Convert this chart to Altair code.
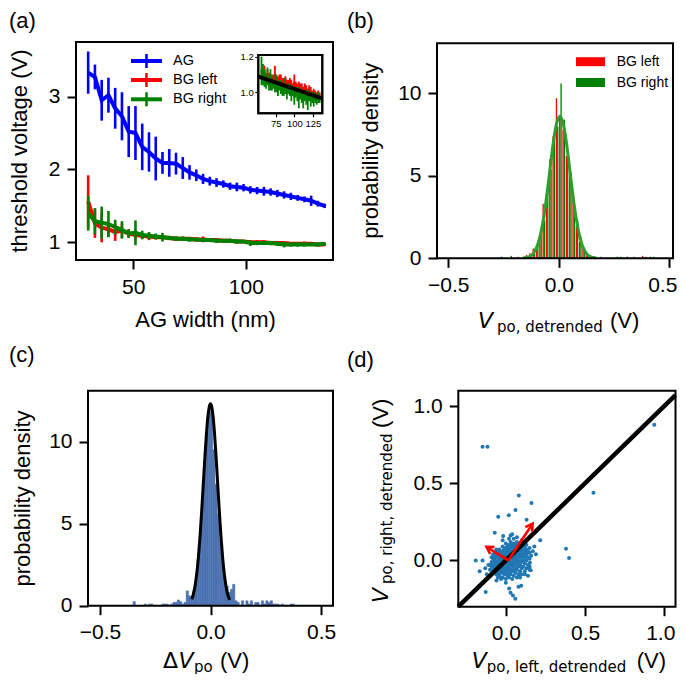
import altair as alt
import pandas as pd

W, H = 669, 666
FONT = "Liberation Sans"
MATH = "DejaVu Sans"
BLUE, RED, GREEN = "#0000ff", "#ff0000", "#008000"

# ---------------- (a) threshold voltage vs AG width ----------------
ag_width = [30, 33, 36, 39, 42, 45, 48, 51, 54, 57, 60, 63, 66, 69, 72, 75, 78, 81,
            84, 87, 90, 93, 96, 99, 102, 105, 108, 111, 114, 117, 120, 123, 126, 129, 132, 135]
ag_vt = [3.33, 3.27, 2.95, 3.02, 2.84, 2.73, 2.52, 2.50, 2.31, 2.24, 2.15, 2.09, 2.09, 2.08, 2.02, 1.96, 1.92, 1.87,
         1.84, 1.82, 1.80, 1.77, 1.76, 1.75, 1.72, 1.71, 1.70, 1.69, 1.67, 1.65, 1.63, 1.61, 1.59, 1.57, 1.53, 1.50]
ag_err = [0.29, 0.17, 0.28, 0.24, 0.28, 0.33, 0.35, 0.37, 0.32, 0.27, 0.30, 0.15, 0.19, 0.15, 0.15, 0.10, 0.08, 0.07,
          0.06, 0.06, 0.05, 0.05, 0.06, 0.05, 0.05, 0.05, 0.06, 0.05, 0.05, 0.05, 0.05, 0.04, 0.04, 0.07, 0.04, 0.03]
bgl_vt = [1.56, 1.26, 1.20, 1.18, 1.14, 1.16, 1.12, 1.10, 1.09, 1.08, 1.07, 1.07, 1.06, 1.05, 1.05, 1.05, 1.04, 1.04,
          1.03, 1.03, 1.02, 1.02, 1.01, 1.01, 1.00, 1.00, 1.00, 0.99, 0.99, 0.99, 0.98, 0.98, 0.98, 0.98, 0.97, 0.97]
bgl_err = [0.36, 0.20, 0.20, 0.10, 0.12, 0.10, 0.06, 0.06, 0.04, 0.05, 0.03, 0.03, 0.02, 0.03, 0.02, 0.02, 0.03, 0.04,
           0.02, 0.02, 0.02, 0.02, 0.02, 0.02, 0.02, 0.03, 0.03, 0.02, 0.02, 0.02, 0.02, 0.02, 0.03, 0.02, 0.02, 0.02]
bgr_vt = [1.40, 1.29, 1.27, 1.25, 1.21, 1.17, 1.12, 1.13, 1.10, 1.09, 1.08, 1.07, 1.06, 1.05, 1.05, 1.04, 1.04, 1.03,
          1.03, 1.02, 1.02, 1.02, 1.01, 1.01, 0.99, 0.99, 0.99, 0.99, 0.98, 0.97, 0.97, 0.97, 0.97, 0.97, 0.97, 0.98]
bgr_err = [0.24, 0.18, 0.22, 0.18, 0.10, 0.12, 0.06, 0.17, 0.06, 0.05, 0.04, 0.06, 0.03, 0.03, 0.03, 0.03, 0.02, 0.02,
           0.02, 0.03, 0.02, 0.03, 0.03, 0.02, 0.04, 0.03, 0.02, 0.03, 0.03, 0.04, 0.03, 0.03, 0.03, 0.02, 0.03, 0.02]

# inset of (a)
inset_w = [56, 58, 60, 62, 64, 66, 68, 70, 72, 74, 76, 78, 80, 82, 84, 86, 88, 90, 92, 94,
           96, 98, 100, 102, 104, 106, 108, 110, 112, 114, 116, 118, 120, 122, 124, 126, 128, 130, 132, 134]
inset_left = [1.10, 1.09, 1.11, 1.08, 1.10, 1.09, 1.07, 1.08, 1.06, 1.09, 1.07, 1.06, 1.08, 1.05, 1.06, 1.05, 1.07, 1.04, 1.05, 1.06,
              1.04, 1.03, 1.05, 1.04, 1.02, 1.04, 1.03, 1.02, 1.01, 1.03, 1.01, 1.00, 1.02, 1.00, 0.99, 1.00, 0.99, 0.98, 0.99, 0.98]
inset_left_err = [0.03, 0.02, 0.04, 0.02, 0.03, 0.02, 0.03, 0.02, 0.03, 0.06, 0.02, 0.03, 0.02, 0.05, 0.02, 0.03, 0.02, 0.03, 0.02, 0.02,
                  0.03, 0.02, 0.05, 0.02, 0.03, 0.02, 0.02, 0.03, 0.02, 0.02, 0.03, 0.02, 0.02, 0.03, 0.02, 0.02, 0.02, 0.02, 0.02, 0.02]
inset_right = [1.12, 1.10, 1.08, 1.06, 1.09, 1.05, 1.07, 1.04, 1.06, 1.03, 1.05, 1.02, 1.04, 1.03, 1.01, 1.03, 1.02, 1.00, 1.02, 1.01,
               0.99, 1.01, 0.98, 1.00, 0.99, 0.97, 0.99, 0.98, 0.96, 0.98, 0.97, 0.96, 0.98, 0.96, 0.97, 0.96, 0.97, 0.96, 0.97, 0.96]
inset_right_err = [0.08, 0.06, 0.05, 0.04, 0.05, 0.04, 0.06, 0.03, 0.04, 0.03, 0.05, 0.04, 0.03, 0.04, 0.03, 0.05, 0.03, 0.04, 0.03, 0.03,
                   0.04, 0.03, 0.05, 0.03, 0.04, 0.06, 0.03, 0.04, 0.05, 0.03, 0.04, 0.06, 0.03, 0.04, 0.03, 0.04, 0.03, 0.03, 0.03, 0.02]
fit_w = [52, 137]
fit_v = [1.088, 0.966]

# ---------------- (b) histograms of detrended V_po ----------------
b_start, b_width = -0.27, 0.015
b_red = [0, 0, 0, 0, 0, 0, 0, 0.1, 0.2,
         0.3, 0.6, 0.5, 1.2, 3.3, 3.6, 6.0, 7.4, 9.7, 8.7, 7.8, 6.2, 5.0, 3.7, 2.0, 1.0, 0.6, 0.3, 0.1,
         0, 0, 0, 0, 0, 0, 0, 0, 0, 0, 0, 0, 0, 0, 0, 0.15, 0.1, 0, 0, 0]
b_green = [0.1, 0, 0, 0.15, 0, 0.1, 0, 0.1, 0.1,
           0.2, 0.3, 0.9, 1.5, 2.3, 4.2, 5.4, 7.6, 8.0, 10.6, 8.4, 6.5, 5.2, 3.3, 2.3, 1.3, 0.5, 0.2, 0.1,
           0.1, 0, 0.1, 0, 0, 0, 0, 0.1, 0.1, 0, 0.1, 0, 0.1, 0, 0, 0, 0, 0.1, 0.1, 0]
b_fit_x = [-0.16, -0.13, -0.115, -0.10, -0.09, -0.08, -0.07, -0.06, -0.05, -0.04, -0.03, -0.02, -0.01, 0.005,
           0.02, 0.03, 0.04, 0.05, 0.06, 0.07, 0.08, 0.09, 0.10, 0.11, 0.125, 0.14, 0.17]
b_fit_y = [0.015, 0.125, 0.30, 0.66, 1.06, 1.61, 2.33, 3.22, 4.26, 5.37, 6.47, 7.44, 8.16, 8.6,
           8.16, 7.44, 6.47, 5.37, 4.26, 3.22, 2.33, 1.61, 1.06, 0.66, 0.30, 0.125, 0.015]

# ---------------- (c) histogram of delta V_po ----------------
c_start, c_width = -0.35, 0.01
c_heights = [0.25, 0, 0, 0, 0, 0.1, 0, 0.1, 0.1, 0, 0, 0, 0, 0.1, 0.1, 0.1, 0, 0.1, 0.2, 0.2,
             0.35, 0.25, 0.1, 0.2, 0.9, 0.6, 0.5, 0.9, 1.6, 2.8, 4.4, 6.6, 8.8, 10.6, 11.8, 12.0, 9.5, 7.4, 5.6, 4.0,
             2.6, 1.5, 1.2, 0.8, 1.0, 1.3, 0.3, 0.2, 0, 0.3, 0, 0.3, 0.1, 0.3, 0, 0.2, 0.2, 0, 0.3, 0.1,
             0.3, 0.2, 0.3, 0.1, 0.1, 0.1, 0, 0.1, 0, 0, 0, 0.1, 0.1, 0, 0]
c_fit_x = [-0.085, -0.0775, -0.07, -0.0625, -0.055, -0.0475, -0.04, -0.0325, -0.025, -0.018, -0.012, -0.006, 0,
           0.006, 0.012, 0.018, 0.025, 0.0325, 0.04, 0.0475, 0.055, 0.0625, 0.07, 0.0775, 0.087]
c_fit_y = [0.39, 0.70, 1.20, 1.92, 2.91, 4.20, 5.74, 7.44, 9.13, 10.54, 11.49, 12.09, 12.3,
           12.09, 11.49, 10.54, 9.13, 7.44, 5.74, 4.20, 2.91, 1.92, 1.20, 0.70, 0.36]

# ---------------- (d) right vs left scatter ----------------
cloud = {
    -0.10: [-0.06, -0.03],
    -0.09: [-0.08, -0.04, -0.01],
    -0.08: [-0.07, -0.05, -0.02, 0.01],
    -0.07: [-0.08, -0.05, -0.03, 0.00, 0.03],
    -0.06: [-0.09, -0.06, -0.04, -0.01, 0.02, 0.05],
    -0.05: [-0.08, -0.05, -0.02, 0.00, 0.03],
    -0.04: [-0.10, -0.07, -0.04, -0.02, 0.01, 0.04, 0.07],
    -0.03: [-0.08, -0.05, -0.03, 0.00, 0.02, 0.05],
    -0.02: [-0.11, -0.07, -0.04, -0.02, 0.01, 0.03, 0.06, 0.09],
    -0.01: [-0.09, -0.06, -0.03, -0.01, 0.02, 0.04, 0.07],
    0.00: [-0.12, -0.08, -0.05, -0.02, 0.00, 0.03, 0.05, 0.08, 0.11],
    0.01: [-0.10, -0.06, -0.04, -0.01, 0.01, 0.04, 0.06, 0.09],
    0.02: [-0.11, -0.08, -0.05, -0.02, 0.00, 0.02, 0.05, 0.07, 0.10],
    0.03: [-0.09, -0.06, -0.03, -0.01, 0.02, 0.04, 0.06, 0.09, 0.12],
    0.04: [-0.12, -0.07, -0.04, -0.02, 0.01, 0.03, 0.05, 0.08, 0.10],
    0.05: [-0.10, -0.06, -0.03, 0.00, 0.02, 0.04, 0.07, 0.09, 0.11],
    0.06: [-0.08, -0.05, -0.02, 0.01, 0.03, 0.05, 0.08, 0.10],
    0.07: [-0.11, -0.06, -0.03, 0.00, 0.02, 0.04, 0.06, 0.09, 0.12],
    0.08: [-0.09, -0.04, -0.01, 0.02, 0.04, 0.07, 0.10],
    0.09: [-0.07, -0.03, 0.00, 0.03, 0.05, 0.08, 0.11],
    0.10: [-0.09, -0.05, -0.01, 0.02, 0.04, 0.07, 0.09],
    0.11: [-0.04, 0.00, 0.03, 0.06, 0.10],
    0.12: [-0.07, -0.02, 0.02, 0.05, 0.08],
    0.13: [-0.05, 0.00, 0.04, 0.07],
    0.14: [-0.03, 0.02, 0.06],
    0.15: [-0.06, 0.01, 0.05, 0.08],
    0.16: [0.03],
    0.17: [0.06],
}
scatter_left = [-0.147, -0.116, 0.937, 0.553, 0.38, 0.399, 0.082, 0.162, 0.061, -0.048, 0.019, 0.131, 0.217,
                -0.19, -0.147, -0.127, 0.021, 0.03, 0.045, 0.06, 0.08, 0.097, -0.017, 0.03, -0.07, 0.13, 0.152,
                0.157, 0.14, -0.165, -0.059, 0.0, -0.06,
                -0.12, -0.13, -0.11, -0.09, -0.08, -0.05, -0.05, -0.03, 0.02, 0.05, 0.07, 0.09, 0.12, 0.15,
                0.18, 0.19, 0.04, -0.02, 0.10]
scatter_right = [0.736, 0.736, 0.879, 0.439, 0.075, 0.015, 0.42, 0.372, 0.327, 0.283, 0.292, 0.264, 0.13,
                 0.0, 0.0, -0.204, -0.182, -0.21, -0.227, -0.249, -0.17, -0.164, 0.158, 0.162, 0.18, 0.1, -0.015,
                 -0.063, -0.1, -0.07, -0.13, -0.145, 0.07,
                 -0.09, -0.05, -0.03, 0.02, 0.04, 0.06, -0.11, -0.12, 0.14, 0.14, 0.15, -0.11, -0.09, -0.04,
                 0.09, 0.04, 0.17, 0.13, 0.13]
d_lo, d_hi = -0.3, 1.071
arrow_x0, arrow_y0 = [0.015, 0.015], [0.0, 0.0]
arrow_x1, arrow_y1 = [0.169, -0.122], [0.238, 0.088]
arrow_angle = [34, 302]

# ---------------- helpers ----------------
def scale(dom, rng):
    return alt.Scale(domain=dom, range=rng, nice=False, zero=False)


def axis(orient, offset, values, fmt, size=21, tick=9, tickw=2, pad=7, label_offset=None):
    kw = dict(orient=orient, offset=offset, values=values, format=fmt, title=None, grid=False,
              domain=False, tickSize=tick, tickWidth=tickw, tickColor="black",
              labelFont=FONT, labelFontSize=size, labelColor="black", labelPadding=pad,
              labelFlush=False, labelOverlap=False)
    if label_offset:
        kw["labelOffset"] = {"expr": label_offset}
    return alt.Axis(**kw)


class Panel:
    def __init__(self, xdom, xrng, ydom, yrng, xax, yax):
        self.xdom, self.ydom = xdom, ydom
        self.xs, self.ys = scale(xdom, xrng), scale(ydom, yrng)
        self.xax, self.yax = xax, yax

    def X(self, f):
        return alt.X(f"{f}:Q", scale=self.xs, axis=self.xax)

    def Y(self, f):
        return alt.Y(f"{f}:Q", scale=self.ys, axis=self.yax)

    def frame(self, sw=2.0, fill=None):
        df = pd.DataFrame({"x0": [self.xdom[0]], "x1": [self.xdom[1]],
                           "y0": [self.ydom[0]], "y1": [self.ydom[1]]})
        if fill:
            m = alt.Chart(df).mark_rect(fill=fill, stroke="black", strokeWidth=sw)
        else:
            m = alt.Chart(df).mark_rect(fillOpacity=0, stroke="black", strokeWidth=sw)
        return m.encode(x=self.X("x0"), x2="x1", y=self.Y("y0"), y2="y1")


def T(s, x, y, size=22, font=FONT, style="normal", angle=0, align="left", baseline="alphabetic"):
    return alt.Chart(alt.Data(values=[{}])).mark_text(
        text=s, font=font, fontSize=size, fontStyle=style, angle=angle, align=align,
        baseline=baseline, color="black").encode(x=alt.value(x), y=alt.value(y))


def one():
    return alt.Chart(alt.Data(values=[{}]))


def err_df(xs, vs, es):
    return pd.DataFrame({"w": xs, "v": vs, "lo": [v - e for v, e in zip(vs, es)],
                         "hi": [v + e for v, e in zip(vs, es)]})


# ---------------- panel (a) ----------------
A = Panel([24.6, 138.7], [68, 325], [0.757, 3.75], [252, 34],
          axis("bottom", 252 - H, [50, 100], "d"), axis("left", -68, [1, 2, 3], "d"))
layers_a = []
for xs, vs, es, col in [(ag_width, ag_vt, ag_err, BLUE), (ag_width, bgl_vt, bgl_err, RED),
                        (ag_width, bgr_vt, bgr_err, GREEN)]:
    df = err_df(xs, vs, es)
    layers_a.append(alt.Chart(df).mark_rule(color=col, strokeWidth=2.6).encode(
        x=A.X("w"), y=A.Y("lo"), y2="hi"))
    layers_a.append(alt.Chart(df).mark_line(color=col, strokeWidth=4).encode(x=A.X("w"), y=A.Y("v")))
layers_a.append(A.frame())
panel_a = alt.layer(*layers_a)

# inset
I = Panel([51.7, 137.5], [250.3, 314.3], [0.882, 1.21], [105.3, 47],
          axis("bottom", 105.3 - H, [75, 100, 125], "d", size=9.5, tick=3.5, tickw=1.2, pad=1.5),
          axis("left", -250.3, [1.0, 1.2], ".1f", size=9.5, tick=3.5, tickw=1.2, pad=1.5))
layers_i = [I.frame(fill="white")]
for vs, es, col in [(inset_left, inset_left_err, RED), (inset_right, inset_right_err, GREEN)]:
    df = err_df(inset_w, vs, es)
    layers_i.append(alt.Chart(df).mark_rule(color=col, strokeWidth=1.8).encode(
        x=I.X("w"), y=I.Y("lo"), y2="hi"))
    layers_i.append(alt.Chart(df).mark_line(color=col, strokeWidth=2.5).encode(x=I.X("w"), y=I.Y("v")))
layers_i.append(alt.Chart(pd.DataFrame({"w": fit_w, "v": fit_v})).mark_line(
    color="black", strokeWidth=4).encode(x=I.X("w"), y=I.Y("v")))
layers_i.append(I.frame())
panel_i = alt.layer(*layers_i)

# ---------------- panel (b) ----------------
B = Panel([-0.551, 0.517], [429, 665], [0, 13.03], [250.3, 35.3],
          axis("bottom", 250.3 - H, [-0.5, 0.0, 0.5], ".1f", label_offset="datum.value > 0.4 ? -7 : 0"),
          axis("left", -429, [0, 5, 10], "d"))
rows = []
for k, (hr, hg) in enumerate(zip(b_red, b_green)):
    e = b_start + k * b_width
    if hr > 0:
        rows.append({"s": "BG left", "x0": e + 0.1 * b_width, "x1": e + 0.5 * b_width, "y0": 0, "h": hr})
    if hg > 0:
        rows.append({"s": "BG right", "x0": e + 0.5 * b_width, "x1": e + 0.9 * b_width, "y0": 0, "h": hg})
df_b = pd.DataFrame(rows)
panel_b = alt.layer(
    alt.Chart(df_b[df_b.s == "BG left"]).mark_rect(color=RED).encode(
        x=B.X("x0"), x2="x1", y=B.Y("y0"), y2="h"),
    alt.Chart(df_b[df_b.s == "BG right"]).mark_rect(color=GREEN).encode(
        x=B.X("x0"), x2="x1", y=B.Y("y0"), y2="h"),
    alt.Chart(pd.DataFrame({"x": b_fit_x, "y": b_fit_y})).mark_line(
        color="#2ca02c", strokeWidth=3, interpolate="monotone").encode(x=B.X("x"), y=B.Y("y")),
    B.frame(),
)

# ---------------- panel (c) ----------------
C = Panel([-0.554, 0.554], [80, 325], [0, 13.1], [597.7, 382.7],
          axis("bottom", 597.7 - H, [-0.5, 0.0, 0.5], ".1f"), axis("left", -80, [0, 5, 10], "d"))
df_c = pd.DataFrame({"x0": [c_start + k * c_width for k in range(len(c_heights))],
                     "h": c_heights})
df_c["x1"] = df_c["x0"] + c_width
df_c["y0"] = 0.0
df_c = df_c[df_c.h > 0]
panel_c = alt.layer(
    alt.Chart(df_c).mark_rect(color="#4c72b0", stroke="#4c72b0", strokeWidth=0.6).encode(
        x=C.X("x0"), x2="x1", y=C.Y("y0"), y2="h"),
    alt.Chart(pd.DataFrame({"x": c_fit_x, "y": c_fit_y})).mark_line(
        color="black", strokeWidth=3, interpolate="monotone").encode(x=C.X("x"), y=C.Y("y")),
    C.frame(),
)

# ---------------- panel (d) ----------------
D = Panel([d_lo, d_hi], [450.3, 667.5], [-0.3, 1.1], [598.7, 382.7],
          axis("bottom", 598.7 - H, [0.0, 0.5, 1.0], ".1f", label_offset="datum.value > 0.9 ? -4 : 0"),
          axis("left", -450.3, [0.0, 0.5, 1.0], ".1f"))
pts_l, pts_r = [], []
for cx, ys in cloud.items():
    for cy in ys:
        pts_l.append(cx)
        pts_r.append(cy)
pts_l += scatter_left
pts_r += scatter_right
df_d = pd.DataFrame({"l": pts_l, "r": pts_r})
df_arrow = pd.DataFrame({"x0": arrow_x0, "y0": arrow_y0, "x1": arrow_x1, "y1": arrow_y1, "ang": arrow_angle})
panel_d = alt.layer(
    alt.Chart(df_d).mark_circle(size=16, color="#1f77b4", opacity=1).encode(x=D.X("l"), y=D.Y("r")),
    alt.Chart(pd.DataFrame({"x": [d_lo, d_hi], "y": [d_lo, d_hi]})).mark_line(
        color="black", strokeWidth=4.5).encode(x=D.X("x"), y=D.Y("y")),
    alt.Chart(df_arrow).mark_rule(color=RED, strokeWidth=2.6).encode(
        x=D.X("x0"), y=D.Y("y0"), x2="x1", y2="y1"),
    alt.Chart(df_arrow).mark_point(shape="M-0.6,1L0,0L0.6,1", filled=False, size=190, color=RED,
                                   strokeWidth=2.6, opacity=1).encode(
        x=D.X("x1"), y=D.Y("y1"), angle=alt.Angle("ang:Q", scale=None)),
    D.frame(),
)

# ---------------- legends ----------------
leg = []
for lab, col, y in [("AG", BLUE, 53), ("BG left", RED, 72), ("BG right", GREEN, 91.3)]:
    leg.append(one().mark_rule(color=col, strokeWidth=4).encode(
        x=alt.value(123), x2=alt.value(154), y=alt.value(y)))
    leg.append(one().mark_rule(color=col, strokeWidth=2.6).encode(
        x=alt.value(138.5), y=alt.value(y - 7), y2=alt.value(y + 7)))
    leg.append(T(lab, 165, y, size=14.5, baseline="middle"))
for lab, col, y in [("BG left", RED, 53.7), ("BG right", GREEN, 74.5)]:
    leg.append(one().mark_rect(color=col).encode(
        x=alt.value(568), x2=alt.value(597), y=alt.value(y - 4.5), y2=alt.value(y + 4.5)))
    leg.append(T(lab, 608.7, y, size=14, baseline="middle"))

# ---------------- titles and labels ----------------
texts = [
    T("(a)", 1, 3, baseline="top"), T("(b)", 339, 3, baseline="top"),
    T("(c)", 1, 337, baseline="top"), T("(d)", 339, 342, baseline="top"),
    T("AG width (nm)", 197.5, 319, align="center"),
    T("threshold voltage (V)", 19, 143, angle=270, align="center"),
    T("probability density", 370, 142.8, angle=270, align="center"),
    T("probability density", 22, 490.5, angle=270, align="center"),
    # (b) x title
    T("V", 470, 320, size=22, font=MATH, style="italic"),
    T("po, detrended", 489, 323.5, size=15, font=MATH),
    T("(V)", 602, 320),
    # (c) x title
    T("\u0394", 155, 660, size=22, font=MATH),
    T("V", 170.5, 660, size=22, font=MATH, style="italic"),
    T("po", 186, 663.5, size=15, font=MATH),
    T("(V)", 212, 660),
    # (d) x title
    T("V", 463.7, 660, size=22, font=MATH, style="italic"),
    T("po, left, detrended", 478.7, 663.5, size=15, font=MATH),
    T("(V)", 628.7, 660),
    # (d) y title (rotated)
    T("V", 380, 595, size=22, font=MATH, style="italic", angle=270),
    T("po, right, detrended", 383.5, 576, size=15, font=MATH, angle=270),
    T("(V)", 380, 420, angle=270),
]

chart = alt.layer(panel_a, panel_i, panel_b, panel_c, panel_d, *leg, *texts).resolve_scale(
    x="independent", y="independent"
).properties(
    width=W, height=H, padding=0, autosize=alt.AutoSizeParams(type="none")
).configure_view(strokeWidth=0)

chart.save("out.html", embed_options={"renderer": "svg", "actions": False})
